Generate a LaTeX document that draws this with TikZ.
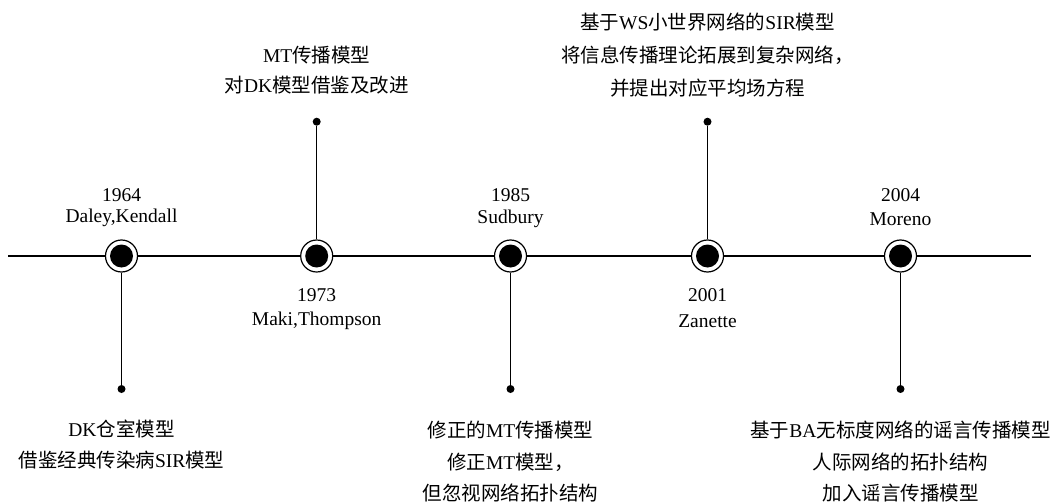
\documentclass[tikz,border=0pt]{standalone}
\usepackage{fontspec}
\setmainfont{Liberation Serif}
\newfontfamily\cjk{Noto Sans CJK SC}
\begin{document}
\begin{tikzpicture}[x=1pt,y=-1pt,
  ev/.style={circle, draw=black, line width=1.2pt, fill=white, minimum size=32pt, inner sep=0pt,
    path picture={\fill[black] (path picture bounding box.center) circle (11.5pt);}},
  enddot/.style={circle, fill=black, minimum size=8pt, inner sep=0pt},
  conn/.style={line width=1.5pt, draw=black},
  lbl/.style={font=\fontsize{19.5}{23}\selectfont, inner sep=0pt}]
\useasboundingbox (0,0) rectangle (1053,503);
% timeline end points
\coordinate (L) at (8,256);
\coordinate (R) at (1031,256);
% events
\node[ev] (n1) at (121.5,256) {};
\node[ev] (n2) at (316.7,256) {};
\node[ev] (n3) at (510.5,256) {};
\node[ev] (n4) at (707.5,256) {};
\node[ev] (n5) at (900.5,256) {};
% end dots
\node[enddot] (d1) at (121.5,389) {};
\node[enddot] (d2) at (316.7,121.7) {};
\node[enddot] (d3) at (510.5,389) {};
\node[enddot] (d4) at (707.5,121.7) {};
\node[enddot] (d5) at (900.5,389) {};
% connectors
\draw[conn] (L) -- (n1) -- (n2) -- (n3) -- (n4) -- (n5) -- (R);
\draw[conn] (n1) -- (d1);
\draw[conn] (n2) -- (d2);
\draw[conn] (n3) -- (d3);
\draw[conn] (n4) -- (d4);
\draw[conn] (n5) -- (d5);
% labels event 1
\node[lbl] (y1) at (121.5,195) {1964};
\node[lbl] (a1) at (121.5,218) {Daley,Kendall};
\node[lbl] (b1a) at (121.5,429) {DK{\cjk 仓室模型}};
\node[lbl] (b1b) at (121.5,460) {{\cjk 借鉴经典传染病}SIR{\cjk 模型}};
% event 2
\node[lbl] (t2a) at (316.7,55) {MT{\cjk 传播模型}};
\node[lbl] (t2b) at (316.7,85) {{\cjk 对}DK{\cjk 模型借鉴及改进}};
\node[lbl] (y2) at (316.7,295) {1973};
\node[lbl] (a2) at (316.7,321) {Maki,Thompson};
% event 3
\node[lbl] (y3) at (510.5,195) {1985};
\node[lbl] (a3) at (510.5,219) {Sudbury};
\node[lbl] (b3a) at (510.5,430) {{\cjk 修正的}MT{\cjk 传播模型}};
\node[lbl] (b3b) at (510.5,462) {{\cjk 修正}MT{\cjk 模型，}};
\node[lbl] (b3c) at (510.5,493) {{\cjk 但忽视网络拓扑结构}};
% event 4
\node[lbl] (t4a) at (707.5,22) {{\cjk 基于}WS{\cjk 小世界网络的}SIR{\cjk 模型}};
\node[lbl] (t4b) at (707.5,55) {{\cjk 将信息传播理论拓展到复杂网络，}};
\node[lbl] (t4c) at (707.5,88) {{\cjk 并提出对应平均场方程}};
\node[lbl] (y4) at (707.5,295) {2001};
\node[lbl] (a4) at (707.5,321) {Zanette};
% event 5
\node[lbl] (y5) at (900.5,195) {2004};
\node[lbl] (a5) at (900.5,219) {Moreno};
\node[lbl] (b5a) at (900.5,430) {{\cjk 基于}BA{\cjk 无标度网络的谣言传播模型}};
\node[lbl] (b5b) at (900.5,462) {{\cjk 人际网络的拓扑结构}};
\node[lbl] (b5c) at (900.5,493) {{\cjk 加入谣言传播模型}};
\end{tikzpicture}
\end{document}
